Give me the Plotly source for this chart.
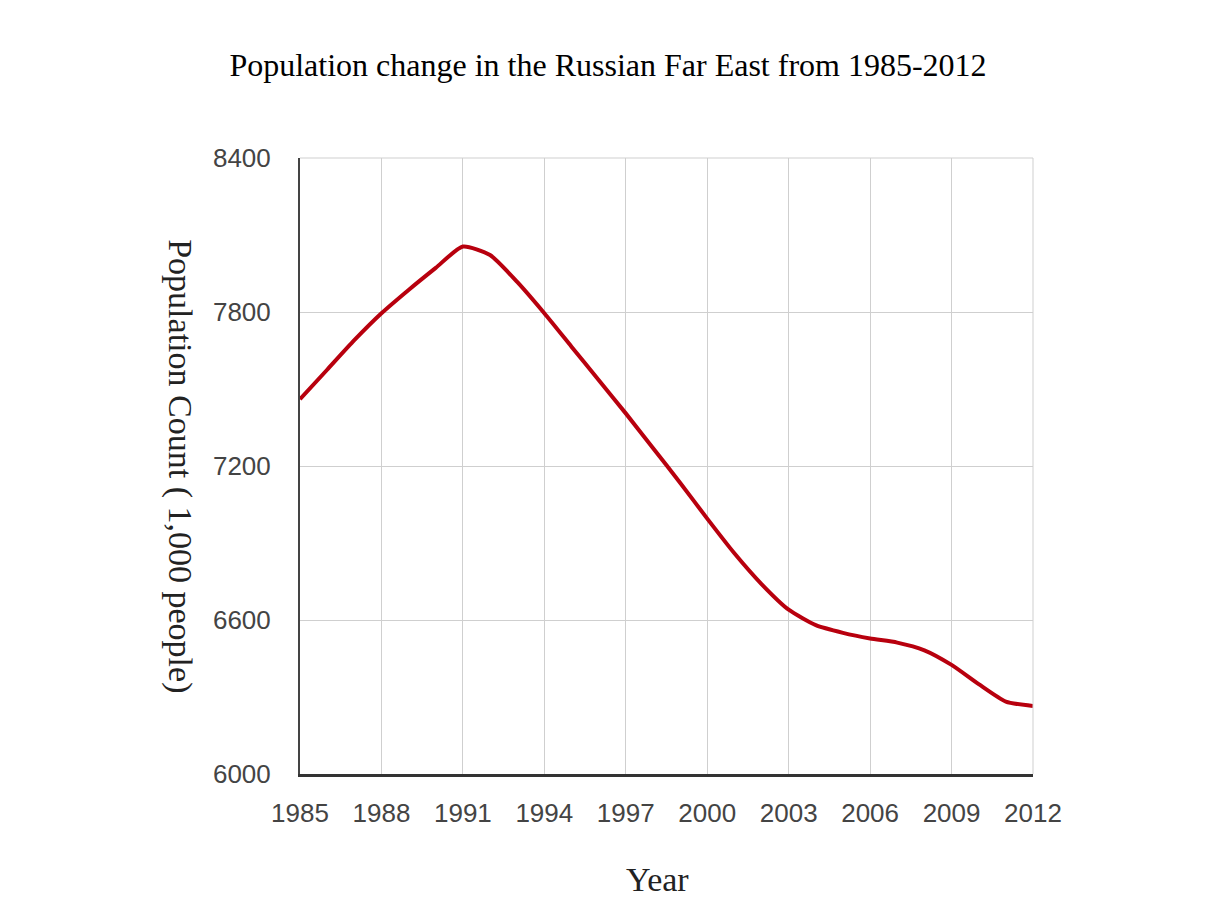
import plotly.graph_objects as go

# Russian Far East population, thousands of people
years = list(range(1985, 2013))
population = [
    7460, 7575, 7690, 7795, 7886, 7972, 8055, 8022, 7917, 7795,
    7665, 7535, 7405, 7270, 7135, 6995, 6860, 6740, 6640, 6580,
    6550, 6528, 6512, 6482, 6425, 6350, 6282, 6265,
]

x_ticks = list(range(1985, 2013, 3))
y_ticks = [6000, 6600, 7200, 7800, 8400]

SERIF = "Liberation Serif, Times New Roman, serif"
NARROW = "Liberation Sans Narrow, Liberation Sans, Arial, sans-serif"

fig = go.Figure()

fig.add_trace(
    go.Scatter(
        x=years,
        y=population,
        mode="lines",
        line=dict(color="#b8000e", width=4, shape="spline", smoothing=0.6),
        showlegend=False,
        hoverinfo="x+y",
    )
)

fig.update_layout(
    width=1200,
    height=900,
    paper_bgcolor="white",
    plot_bgcolor="white",
    margin=dict(l=292, r=175, t=150, b=134),
    title=dict(
        text="Population change in the Russian Far East from 1985-2012",
        font=dict(family=SERIF, size=32, color="black"),
        x=0.5,
        xanchor="center",
        xref="container",
        y=1 - 57 / 900,
        yanchor="middle",
        yref="container",
    ),
    xaxis=dict(
        range=[1985, 2012],
        tickvals=x_ticks,
        ticktext=[str(v) for v in x_ticks],
        showgrid=True,
        gridcolor="#cfcfcf",
        gridwidth=1,
        showline=True,
        linecolor="#333333",
        linewidth=3,
        mirror=False,
        zeroline=False,
        ticks="",
        ticklabelstandoff=14,
        tickfont=dict(family=NARROW, size=26, color="#444444"),
    ),
    yaxis=dict(
        range=[6000, 8400],
        tickvals=y_ticks,
        showgrid=True,
        gridcolor="#cfcfcf",
        gridwidth=1,
        showline=True,
        linecolor="#444444",
        linewidth=2,
        zeroline=False,
        ticks="",
        ticklabelstandoff=22,
        tickfont=dict(family=NARROW, size=26, color="#444444"),
    ),
)

# right and top border as light grey (gridline look)
fig.add_shape(type="line", xref="paper", yref="paper", x0=1, x1=1, y0=0, y1=1,
              line=dict(color="#cfcfcf", width=1))
fig.add_shape(type="line", xref="paper", yref="paper", x0=0, x1=1, y0=1, y1=1,
              line=dict(color="#cfcfcf", width=1))

# y-axis title, reads top to bottom
fig.add_annotation(
    text="Population Count ( 1,000 people)",
    xref="paper", yref="paper",
    x=-0.164, y=0.5,
    xanchor="center", yanchor="middle",
    textangle=90,
    showarrow=False,
    font=dict(family=SERIF, size=34, color="#222222"),
)

# x-axis title
fig.add_annotation(
    text="Year",
    xref="paper", yref="paper",
    x=0.488, y=-0.172,
    xanchor="center", yanchor="middle",
    showarrow=False,
    font=dict(family=SERIF, size=34, color="#222222"),
)

fig.write_html("out.html")
